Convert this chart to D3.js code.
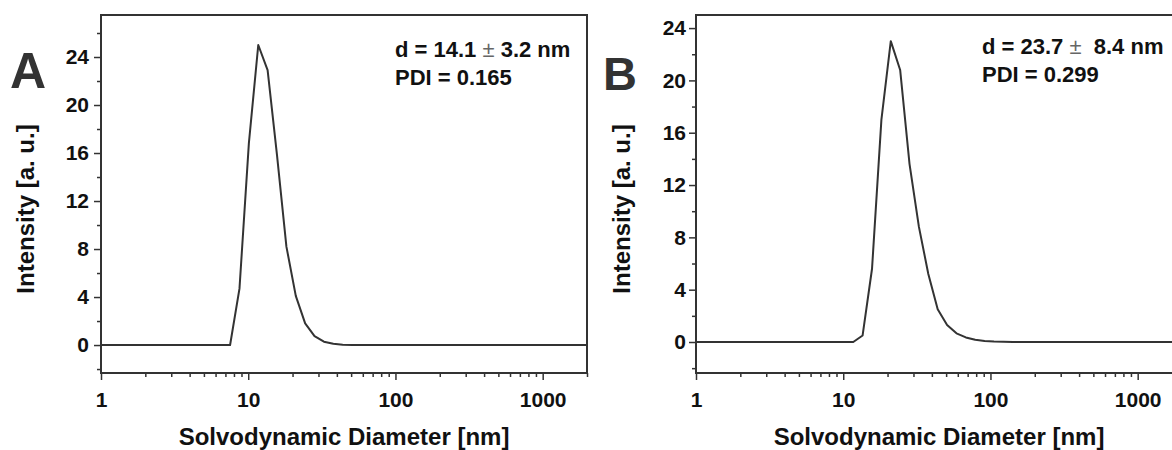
<!DOCTYPE html>
<html>
<head>
<meta charset="utf-8">
<script src="https://cdn.jsdelivr.net/npm/d3@7"></script>
<style>
  body { margin: 0; background: #fff; }
  svg { display: block; font-family: "Liberation Sans", Arial, sans-serif; }
  text { white-space: pre; }
</style>
</head>
<body>
<script>
// size bins (nm) shared by both measurements
var sizes = [0.9649, 1.117, 1.294, 1.499, 1.736, 2.010, 2.328, 2.696, 3.122, 3.615,
  4.187, 4.849, 5.615, 6.503, 7.531, 8.721, 10.10, 11.70, 13.54, 15.69,
  18.17, 21.04, 24.36, 28.21, 32.67, 37.84, 43.82, 50.75, 58.77, 68.06,
  78.82, 91.28, 105.7, 122.4, 141.8, 164.2, 190.1, 220.2, 255.0, 295.3,
  342.0, 396.1, 458.7, 531.2, 615.1, 712.4, 825.0, 955.4, 1106, 1281,
  1484, 1718, 1990, 2305];

// panel A intensities
var intensityA = [0, 0, 0, 0, 0, 0, 0, 0, 0, 0,
  0, 0, 0, 0, 0, 4.7, 16.8, 25.0, 22.9, 15.8,
  8.2, 4.1, 1.8, 0.75, 0.28, 0.1, 0.03, 0.01, 0, 0,
  0, 0, 0, 0, 0, 0, 0, 0, 0, 0,
  0, 0, 0, 0, 0, 0, 0, 0, 0, 0,
  0, 0, 0, 0];

// panel B intensities
var intensityB = [0, 0, 0, 0, 0, 0, 0, 0, 0, 0,
  0, 0, 0, 0, 0, 0, 0, 0, 0.5, 5.6,
  17.0, 23.0, 20.8, 13.6, 8.8, 5.2, 2.5, 1.3, 0.66, 0.35,
  0.17, 0.08, 0.03, 0.01, 0, 0, 0, 0, 0, 0,
  0, 0, 0, 0, 0, 0, 0, 0, 0, 0,
  0, 0, 0, 0];

var xTickLabels = [1, 10, 100, 1000];
var yTickLabels = [0, 4, 8, 12, 16, 20, 24];
var annotA = ["d = 14.1 ", "\u00b1", " 3.2 nm", "PDI = 0.165"];
var annotB = ["d = 23.7 ", "\u00b1", "  8.4 nm", "PDI = 0.299"];

var width = 1172;
var height = 450;
var ink = "#333";

var svg = d3.select("body").append("svg")
  .attr("width", width).attr("height", height);

function drawPanel(p) {
  var x = d3.scaleLog().domain([1, 2000]).range([p.left, p.left + 486]);
  var y = d3.scaleLinear().domain(p.yDomain).range([373, 15]);

  var g = svg.append("g");

  g.append("clipPath").attr("id", "clip" + p.letter)
    .append("rect").attr("x", p.left).attr("y", 15)
    .attr("width", 486).attr("height", 358);

  // minor ticks
  var xMinor = [];
  [1, 10, 100, 1000].forEach(function (d) {
    for (var k = 2; k <= 9; k++) if (d * k <= 2000) xMinor.push(d * k);
  });
  var yMinor = d3.range(-2, p.yDomain[1], 4);

  g.append("g").attr("transform", "translate(0,373)")
    .call(d3.axisBottom(x).tickValues(xMinor).tickSize(4).tickFormat(""))
    .call(function (a) { a.select(".domain").remove(); a.selectAll("line").attr("stroke", ink).attr("stroke-width", 1.5); });
  g.append("g").attr("transform", "translate(" + p.left + ",0)")
    .call(d3.axisLeft(y).tickValues(yMinor).tickSize(4).tickFormat(""))
    .call(function (a) { a.select(".domain").remove(); a.selectAll("line").attr("stroke", ink).attr("stroke-width", 1.5); });

  // major ticks + labels
  g.append("g").attr("transform", "translate(0,373)")
    .call(d3.axisBottom(x).tickValues(xTickLabels).tickSize(7).tickPadding(12).tickFormat(d3.format("d")))
    .call(function (a) {
      a.select(".domain").remove();
      a.selectAll("line").attr("stroke", ink).attr("stroke-width", 1.5);
      a.selectAll("text").attr("font-size", 21).attr("font-weight", "bold").attr("fill", "#111")
        .attr("font-family", "Liberation Sans, Arial, sans-serif");
    });
  g.append("g").attr("transform", "translate(" + p.left + ",0)")
    .call(d3.axisLeft(y).tickValues(yTickLabels).tickSize(7).tickPadding(p.yPad))
    .call(function (a) {
      a.select(".domain").remove();
      a.selectAll("line").attr("stroke", ink).attr("stroke-width", 1.5);
      a.selectAll("text").attr("font-size", 21).attr("font-weight", "bold").attr("fill", "#111")
        .attr("font-family", "Liberation Sans, Arial, sans-serif");
    });

  // frame
  g.append("rect").attr("x", p.left).attr("y", 15)
    .attr("width", 486).attr("height", 358)
    .attr("fill", "none").attr("stroke", ink).attr("stroke-width", 2);

  // curve
  var line = d3.line()
    .x(function (d, i) { return x(sizes[i]); })
    .y(function (d) { return y(d); });
  g.append("path").datum(p.values)
    .attr("clip-path", "url(#clip" + p.letter + ")")
    .attr("d", line)
    .attr("fill", "none").attr("stroke", ink).attr("stroke-width", 2)
    .attr("stroke-linejoin", "round");

  // panel letter
  g.append("text").attr("x", p.letterX).attr("y", p.letterY)
    .attr("font-size", p.letterSize).attr("font-weight", "bold").attr("fill", ink)
    .text(p.letter);

  // axis titles
  g.append("text")
    .attr("transform", "translate(" + p.yTitleX + ",209) rotate(-90)")
    .attr("text-anchor", "middle").attr("font-size", 24).attr("font-weight", "bold").attr("fill", "#111")
    .text("Intensity [a. u.]");
  g.append("text")
    .attr("x", p.left + 243).attr("y", 445)
    .attr("text-anchor", "middle").attr("font-size", 24).attr("font-weight", "bold").attr("fill", "#111")
    .text("Solvodynamic Diameter [nm]");

  // annotation
  var t1 = g.append("text").attr("x", p.annX).attr("y", p.annY)
    .attr("font-size", 22).attr("font-weight", "bold").attr("fill", "#111");
  t1.append("tspan").text(p.annot[0]);
  t1.append("tspan").attr("font-weight", "normal").attr("fill", "#666").text(p.annot[1]);
  t1.append("tspan").text(p.annot[2]);
  g.append("text").attr("x", p.annX).attr("y", p.annY + 28)
    .attr("font-size", 22).attr("font-weight", "bold").attr("fill", "#111")
    .text(p.annot[3]);
}

drawPanel({ letter: "A", left: 101, yDomain: [-2.33, 27.5], values: intensityA, yPad: 5,
  letterX: 10, letterY: 88, letterSize: 50, yTitleX: 34, annX: 395, annY: 57, annot: annotA });
drawPanel({ letter: "B", left: 696, yDomain: [-2.37, 25.0], values: intensityB, yPad: 3,
  letterX: 603, letterY: 90, letterSize: 47, yTitleX: 630, annX: 982, annY: 54, annot: annotB });
</script>
</body>
</html>
